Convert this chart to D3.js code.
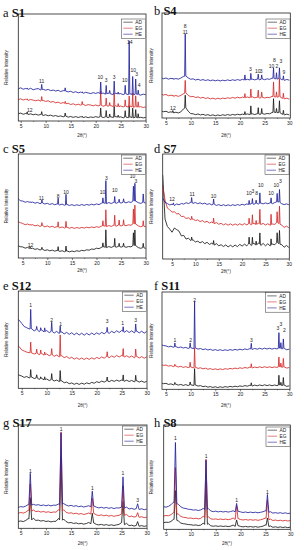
<!DOCTYPE html>
<html><head><meta charset="utf-8">
<script src="https://cdn.jsdelivr.net/npm/d3@7"></script>
<style>html,body{margin:0;padding:0;background:#fff;} svg{display:block;}</style>
</head><body>
<svg id="c" width="304" height="550"></svg>
<script>
// ---------- DATA ----------
const seriesNames = ["AD","EG","HE"];
const xTickValues = [5,10,15,20,25,30];
const xMinorTicks = [7.5,12.5,17.5,22.5,27.5];
const G = [4,4.5,5,5.5,6,6.5,7,7.5,8,8.5,9,9.5,10,10.5,11,11.5,12,12.5,13,13.5,14,14.5,15,15.5,16,16.5,17,17.5,18,18.5,19,19.5,20,20.5,21,21.5,22,22.5,23,23.5,24,24.5,25,25.5,26,26.5,27,27.5,28,28.5,29,29.5,30];
const GD = [3,3.5,4,4.5,5,5.5,6,6.5,7,7.5,8,8.5,9,9.5,10,10.5,11,11.5,12,12.5,13,13.5,14,14.5,15,15.5,16,16.5,17,17.5,18,18.5,19,19.5,20,20.5,21,21.5,22,22.5,23,23.5,24,24.5,25,25.5,26,26.5,27,27.5,28,28.5,29,29.5,30];

// a S1
const aHE = [30.8,30.1,31.0,29.7,30.4,29.5,30.6,29.2,29.9,30.3,29.0,29.6,28.8,29.5,28.4,28.9,28.0,28.7,27.5,28.4,27.9,27.2,27.8,26.6,27.4,26.3,27.0,25.9,26.8,26.2,25.6,26.5,25.8,26.6,25.4,26.1,25.0,26.0,25.3,24.8,25.9,25.1,25.6,24.7,25.5,24.6,25.3,24.4,25.2,24.8,24.2,25.1,24.6];
const aEG = [20.9,20.0,20.7,19.6,20.4,19.3,20.1,19.5,18.9,19.6,18.6,19.2,18.3,18.9,17.6,18.2,17.0,17.6,16.5,17.2,16.1,16.6,15.4,16.1,15.0,15.7,14.8,15.5,14.5,15.3,14.9,14.2,15.0,14.1,14.9,13.8,14.6,13.9,14.4,13.5,14.2,13.3,14.0,13.2,13.9,13.0,13.7,12.8,13.5,12.9,13.4,12.6,13.2];
const aAD = [7.5,6.8,7.4,6.3,7.0,6.1,6.7,5.8,6.4,5.5,6.1,5.2,5.8,4.9,5.5,4.5,5.1,4.2,4.8,3.9,4.6,3.6,4.2,3.4,4.1,3.3,4.0,3.2,3.9,3.1,3.8,3.3,4.1,3.4,4.2,3.2,4.0,3.1,3.9,3.3,4.1,3.4,3.9,3.0,3.8,3.1,3.7,2.9,3.6,2.8,3.5,2.9,3.4];
const aPkX  = [6.3,9.2,13.9,17.3,21.0,22.1,22.8,23.7,24.5,25.9,26.7,27.4,28.0,28.5];
const aPkAD = [2,3,3,1,8,6,3,10,2,6,11,9,7,4];
const aPkEG = [1,4,2,3,13,7,3,12,3,6,10,13,10,5];
const aPkHE = [1,5,3,1,11,8,3,12,2,8,50,17,14,4];
const aLabT = ["12","11","10","3","3","10","11","14","10","3","4"];
const aLabX = [6.8,9.2,20.9,22.1,23.7,25.8,26.7,26.8,27.5,28.2,28.7];
const aLabY = [10,37,41,38,41,38,79,74,47,44,33];

// b S4
const bHE = [38.3,37.4,38.1,37.0,37.8,36.9,37.6,37.0,38.0,39.5,40.0,38.2,36.9,37.3,36.2,36.9,35.9,36.6,35.7,36.4,35.5,36.2,35.4,36.1,35.3,36.0,35.5,36.3,35.6,36.4,35.8,36.6,35.9,36.8,36.0,36.9,36.2,37.0,36.3,37.1,36.4,37.2,36.5,37.3,36.8,38.0,37.5,37.0,37.8,36.6,35.9,36.7,36.0];
const bEG = [22.8,21.9,22.4,21.2,21.8,20.7,21.4,20.6,21.5,23.0,24.0,21.6,20.2,20.6,19.5,20.1,19.0,19.7,18.6,19.3,18.2,18.9,18.0,18.8,18.1,19.0,18.4,19.3,18.7,19.6,18.9,19.8,19.1,19.9,19.2,20.0,19.3,20.1,19.2,19.9,19.0,19.8,19.1,19.7,19.4,20.6,20.2,19.8,20.5,19.0,18.3,18.9,17.9];
const bAD = [6.8,6.0,6.4,5.3,5.9,4.9,5.5,4.8,5.8,8.5,10.0,6.5,4.2,4.0,3.2,3.8,2.9,3.5,2.6,3.2,2.3,3.0,2.2,2.9,2.3,3.1,2.5,3.3,2.6,3.4,2.8,3.6,3.0,3.7,3.1,3.9,3.2,4.0,3.3,4.1,3.4,4.2,3.6,4.3,4.0,5.2,5.5,5.0,5.4,3.8,3.0,3.7,2.9];
const bPkX  = [6.4,8.9,21.0,22.2,23.7,24.4,26.8,27.4,28.0,28.8];
const bPkAD = [2,12,3,8,6,5,13,4,11,4];
const bPkEG = [1,12,4,8,7,5,14,5,17,5];
const bPkHE = [1,40,5,6,5,4,10,6,10,4];
const bLabT = ["12","8","11","3","10","3","10","8","2","3","9"];
const bLabX = [6.4,8.9,8.9,22.1,23.6,24.3,26.4,27.0,27.5,28.3,28.9];
const bLabY = [9.5,87,82,46,45,44.5,49,55,49,54,44];

// c S5
const cHE = [57.5,55.0,54.8,53.6,54.3,53.2,53.8,52.7,53.4,52.3,53.0,51.9,52.6,51.5,52.3,51.2,52.0,51.0,51.8,50.7,51.5,50.5,51.3,50.4,51.2,50.5,51.4,50.6,51.5,50.8,51.7,51.0,52.0,51.3,52.6,53.0,52.2,53.3,52.4,53.5,52.6,53.7,52.8,53.9,53.0,54.0,53.4,55.0,54.6,53.2,52.5,53.6,52.8];
const cEG = [35.0,34.0,33.2,32.0,32.7,31.4,32.1,30.9,31.6,30.4,31.2,30.0,30.8,29.7,30.5,29.4,30.2,29.1,29.9,28.8,29.6,28.6,29.4,28.5,29.3,28.6,29.4,28.8,29.6,29.0,29.9,29.2,30.1,29.5,30.6,31.0,30.2,31.2,30.4,31.5,30.6,31.7,30.8,31.8,31.0,31.9,31.5,33.0,32.6,30.9,30.1,30.8,29.9];
const cAD = [11.8,10.9,10.6,9.5,10.1,8.9,9.4,8.3,8.9,7.7,8.4,7.2,7.9,6.9,7.6,6.6,7.3,6.3,7.0,6.0,6.8,5.9,6.7,6.1,7.0,6.4,7.4,6.9,7.9,7.5,8.6,8.3,9.4,9.0,10.2,10.8,9.9,11.0,10.2,11.2,10.4,11.3,10.5,11.2,10.3,11.0,10.7,12.2,11.8,10.0,9.3,10.1,9.2];
const cPkX  = [6.5,8.9,12.2,13.8,21.3,21.9,23.7,24.6,25.5,27.5,27.8,29.5];
const cPkAD = [2,2,4,5,4,17,8,3,3,12,15,4];
const cPkEG = [1,3,5,6,5,16,10,5,5,14,18,5];
const cPkHE = [1,3,6,10,5,22,6,3,3,14,17,8];
const cLabT = ["12","11","8","10","10","3","10","10","3"];
const cLabX = [6.6,8.8,12.2,13.8,21.2,22.0,23.7,27.3,28.0];
const cLabY = [12,57,59.5,63,63.5,77,65,79,73.5];

// d S7
const dHE = [58,54,52.8,51.5,52.2,51.0,52.4,51.6,52.9,52.3,53.6,52.8,53.9,53.0,53.8,52.7,53.5,52.4,53.2,52.0,52.7,51.5,52.3,51.0,51.8,50.8,51.7,50.7,51.6,50.8,51.7,50.9,51.9,51.1,52.1,51.4,52.4,51.8,52.8,52.1,53.1,52.4,53.3,52.5,53.4,52.6,53.5,52.7,53.8,54.5,54.2,52.6,51.8,52.5,51.7];
const dEG = [70,56,48.5,46.8,44.6,45.0,43.0,43.2,40.4,40.6,38.6,39.2,37.4,38.1,36.6,37.3,35.6,36.6,35.0,35.9,34.3,35.2,33.6,34.7,33.1,34.0,32.5,33.6,32.2,33.5,32.1,33.4,32.2,33.6,32.3,33.7,32.5,33.9,32.6,34.0,32.7,34.1,32.8,33.9,32.4,33.6,32.1,33.3,33.0,35.0,33.4,32.2,30.1,31.3,29.8];
const dAD = [80,38,31,28.5,25.5,29.5,28,26.5,22,22.5,19,19.8,17.6,18.2,16.2,17.0,15.4,16.6,14.6,15.9,13.9,15.1,13.2,14.6,12.6,13.6,11.9,13.4,11.5,13.1,11.6,13.3,11.8,13.9,12.3,14.1,12.6,14.8,12.8,15.0,13.0,15.2,12.9,14.8,12.6,14.5,12.5,14.2,13.6,16.0,14.2,13.6,11.2,12.9,11.0];
const dPkX  = [5.3,9.2,13.9,21.5,22.2,23.0,23.8,26.2,27.5,28.0];
const dPkAD = [0,3,4,6,7,4,11,6,9,13];
const dPkEG = [0,3,5,5,9,4,14,10,10,17];
const dPkHE = [2,5,5,4,5,3,10,5,8,12];
const dLabT = ["12","11","10","10","3","8","10","10","10","3"];
const dLabX = [5.0,9.3,13.9,21.5,22.3,23.1,24.0,26.2,27.3,28.2];
const dLabY = [57,62,60,62.5,65,62.5,70.5,62.5,70,74.5];

// e S12
const eHE = [72.0,70.0,66.8,63.5,62.3,61.0,61.2,59.0,60.6,58.3,59.9,57.8,59.4,57.2,58.9,56.8,58.5,56.3,58.0,55.9,57.5,55.4,57.1,55.0,56.8,54.8,56.6,54.6,56.5,54.8,56.8,55.1,57.0,55.5,57.5,56.0,58.0,56.5,58.6,57.0,59.1,57.4,59.4,57.5,59.3,57.3,59.1,57.1,58.9,56.9,58.7,56.7,58.4];
const eEG = [44.5,42.8,39.5,38.3,37.2,36.6,36.4,35.2,36.3,34.6,35.8,34.0,35.3,33.5,34.8,32.9,34.2,32.3,33.5,31.5,32.7,30.7,31.9,30.0,31.4,29.7,31.2,29.6,31.1,29.7,31.3,30.0,31.7,30.5,32.2,31.0,32.8,31.5,33.3,31.9,33.7,32.2,33.8,32.1,33.5,31.8,33.2,31.5,32.9,31.1,32.6,30.9,32.3];
const eAD = [14.5,13.5,12.6,11.2,12.1,10.7,11.6,10.0,10.9,9.2,10.2,8.6,9.6,8.0,9.1,7.5,8.5,6.9,7.7,5.7,6.4,4.7,5.5,4.1,5.2,4.0,5.3,4.2,5.6,4.6,6.1,5.2,6.8,5.9,7.4,6.4,7.8,6.8,8.2,7.1,8.4,7.3,8.5,7.2,8.3,7.0,8.1,6.7,7.8,6.4,7.5,6.1,7.2];
const ePkX  = [6.8,8.0,8.8,9.6,11.0,12.7,22.1,25.3,27.8];
const ePkAD = [8,3,2,3,6,11,4,6,6];
const ePkEG = [11,4,4,3,6,22,5,8,8];
const ePkHE = [20,3,3,4,9,7,5,5,8];
const eLabT = ["1","2","1","3","1","3"];
const eLabX = [6.8,11.0,12.8,22.1,25.2,27.8];
const eLabY = [85,70,66,68.5,66.8,69.5];

// f S11
const fHE = [45.8,45.0,44.6,43.6,44.3,43.2,43.9,42.8,43.5,42.4,43.1,42.0,42.8,41.9,42.5,41.3,41.9,40.8,41.5,40.4,41.1,40.0,40.8,39.9,40.7,39.8,40.6,39.9,40.8,40.1,41.0,40.3,41.2,40.5,41.5,40.8,41.8,41.0,42.0,41.2,42.2,41.3,42.3,41.4,42.2,41.3,42.1,41.5,42.4,41.6,41.9,40.6,41.3];
const fEG = [25.4,24.6,24.9,23.8,24.4,23.3,24.0,22.9,23.6,22.5,23.3,22.3,23.0,22.1,22.6,21.5,22.1,21.0,21.7,20.6,21.3,20.3,21.0,20.2,21.0,20.3,21.2,20.6,21.5,20.9,21.8,21.2,22.1,21.5,22.4,21.8,22.7,22.0,22.9,22.2,23.1,22.3,23.2,22.4,23.1,22.3,23.0,22.5,23.3,22.6,22.9,21.8,22.4];
const fAD = [6.5,5.8,6.1,5.0,5.6,4.6,5.3,4.3,5.0,4.0,4.8,3.9,4.7,4.0,4.4,3.3,3.8,2.7,3.2,2.2,2.8,1.9,2.6,1.8,2.6,1.9,2.8,2.2,3.0,2.4,3.2,2.6,3.5,2.9,3.8,3.2,4.1,3.4,4.3,3.6,4.5,3.7,4.6,3.8,4.5,3.7,4.4,3.8,4.6,3.9,4.2,3.0,3.6];
const fPkX  = [6.8,9.9,10.8,22.3,27.9,28.3,28.8];
const fPkAD = [2,3,17,3,10,3,8];
const fPkEG = [2,5,20,4,10,4,9];
const fPkHE = [4,5,48,6,16,6,10];
const fLabT = ["1","2","2","3","3","3","2"];
const fLabX = [6.8,10.0,10.8,22.3,27.7,28.3,29.0];
const fLabY = [50.5,50,92,50.5,63,66.5,61];

// g S17
const gHE = [20.5,20.2,21.0,20.6,21.5,23.0,22.0,23.2,22.4,22.9,22.0,22.6,21.8,22.5,21.7,22.4,22.3,23.5,22.3,24.0,22.5,21.6,22.2,21.3,21.9,20.9,21.5,20.6,21.2,21.8,20.6,21.6,20.5,19.7,20.4,19.5,20.2,19.3,20.0,19.1,19.8,19.6,20.5,19.3,20.5,18.7,19.3,18.4,19.1,18.2,18.9,18.0,18.6];
const gEG = [14.3,14.6,15.3,14.7,15.6,17.5,15.8,17.8,16.1,16.6,15.7,16.3,15.5,16.0,15.2,15.8,15.6,18.0,15.3,18.0,15.5,14.6,15.0,14.1,14.6,13.7,14.3,13.4,14.0,14.8,13.6,14.5,13.0,12.4,13.0,12.1,12.7,11.8,12.4,11.6,12.2,12.5,14.0,12.3,13.5,11.2,11.8,10.9,11.5,10.6,11.2,10.3,10.8];
const gAD = [6.3,6.6,7.1,6.5,7.6,9.5,7.2,9.8,7.6,7.9,7.0,7.5,6.6,7.0,6.2,6.7,6.8,9.5,6.4,9.0,6.5,5.3,5.6,4.7,5.2,4.3,4.8,4.0,4.6,5.6,4.2,5.2,3.8,3.3,3.8,3.0,3.6,2.8,3.4,2.7,3.3,3.8,5.5,3.2,4.8,2.6,3.0,2.2,2.8,2.0,2.6,1.9,2.4];
const gPkX  = [6.9,13.0,19.2,25.3,28.2];
const gPkAD = [22,62,10,22,4];
const gPkEG = [27,78,15,28,4];
const gPkHE = [31,70,15,30,5];
const gLabT = ["1","1","1","1","3"];
const gLabX = [6.9,13.0,19.2,25.3,28.2];
const gLabY = [55.5,96,38.7,53,27.4];

// h S8
const hHE = [21.4,21.7,21.2,22.0,23.5,26.0,25.0,24.0,21.5,20.3,19.9,19.2,19.0,18.4,18.7,18.0,18.6,20.0,18.0,20.0,17.6,16.9,17.4,16.7,17.2,16.6,17.1,16.5,17.0,17.8,16.5,17.3,16.7,16.1,16.6,16.0,16.5,15.9,16.4,15.8,16.3,16.8,17.8,16.0,16.9,15.5,16.0,15.4,15.9,15.2,15.8,15.1,15.5];
const hEG = [12.5,12.8,13.2,13.0,14.0,16.0,15.0,14.5,12.3,11.5,11.2,10.6,10.8,10.2,10.6,10.0,10.5,12.5,10.0,12.0,10.1,9.6,10.0,9.4,9.9,9.3,9.8,9.2,9.7,10.8,9.2,10.3,9.4,8.9,9.4,8.8,9.3,8.7,9.2,8.6,9.1,9.8,10.8,9.0,9.8,8.4,8.9,8.2,8.7,8.0,8.6,7.9,8.4];
const hAD = [6.1,6.4,6.8,6.6,7.5,9.5,9.0,8.0,5.9,5.4,5.0,4.5,4.4,3.9,4.2,3.6,4.0,6.0,3.5,5.5,3.4,2.9,3.3,2.8,3.2,2.7,3.1,2.6,3.0,4.0,2.6,3.5,2.8,2.3,2.8,2.2,2.7,2.1,2.6,2.0,2.5,3.0,4.2,2.4,3.2,1.9,2.4,1.8,2.3,1.7,2.2,1.6,2.1];
const hPkX  = [6.9,13.05,19.2,25.4];
const hPkAD = [28,42,6,8];
const hPkEG = [44,57,13,19];
const hPkHE = [58,48,8,17];
const hLabT = ["1","1","1","1"];
const hLabX = [6.9,13.05,19.2,25.4];
const hLabY = [87,70,28,36];

// ---------- PANELS ----------
const panels = [
 {letter:"a", name:"S1",  grid:G,  s:{AD:aAD,EG:aEG,HE:aHE}, pk:{x:aPkX,AD:aPkAD,EG:aPkEG,HE:aPkHE}, lab:{t:aLabT,x:aLabX,y:aLabY}},
 {letter:"b", name:"S4",  grid:G,  s:{AD:bAD,EG:bEG,HE:bHE}, pk:{x:bPkX,AD:bPkAD,EG:bPkEG,HE:bPkHE}, lab:{t:bLabT,x:bLabX,y:bLabY}},
 {letter:"c", name:"S5",  grid:G,  s:{AD:cAD,EG:cEG,HE:cHE}, pk:{x:cPkX,AD:cPkAD,EG:cPkEG,HE:cPkHE}, lab:{t:cLabT,x:cLabX,y:cLabY}},
 {letter:"d", name:"S7",  grid:GD, s:{AD:dAD,EG:dEG,HE:dHE}, pk:{x:dPkX,AD:dPkAD,EG:dPkEG,HE:dPkHE}, lab:{t:dLabT,x:dLabX,y:dLabY}},
 {letter:"e", name:"S12", grid:G,  s:{AD:eAD,EG:eEG,HE:eHE}, pk:{x:ePkX,AD:ePkAD,EG:ePkEG,HE:ePkHE}, lab:{t:eLabT,x:eLabX,y:eLabY}},
 {letter:"f", name:"S11", grid:G,  s:{AD:fAD,EG:fEG,HE:fHE}, pk:{x:fPkX,AD:fPkAD,EG:fPkEG,HE:fPkHE}, lab:{t:fLabT,x:fLabX,y:fLabY}},
 {letter:"g", name:"S17", grid:G,  s:{AD:gAD,EG:gEG,HE:gHE}, pk:{x:gPkX,AD:gPkAD,EG:gPkEG,HE:gPkHE}, lab:{t:gLabT,x:gLabX,y:gLabY}},
 {letter:"h", name:"S8",  grid:G,  s:{AD:hAD,EG:hEG,HE:hHE}, pk:{x:hPkX,AD:hPkAD,EG:hPkEG,HE:hPkHE}, lab:{t:hLabT,x:hLabX,y:hLabY}}
];

// layout: box [x0,y0,x1,y1], x-domain, peak half-width, title pos, y-label x, x-label baseline, legend top offset
const layout = {
 a:{box:[18.3,14,146,121],    dom:[4.52,30.06], w:0.12, title:[3,17],    ylab:6,   xlab:136.5, lgTop:5},
 b:{box:[162,13,290.3,118],   dom:[4.19,30.2],  w:0.12, title:[154,15],  ylab:151, xlab:136.5, lgTop:6},
 c:{box:[18.3,154,146,258],   dom:[4.1,30.06],  w:0.12, title:[3,153],   ylab:6,   xlab:272,   lgTop:1},
 d:{box:[162.7,154,289.3,259],dom:[3.0,30.1],   w:0.12, title:[154,153], ylab:151, xlab:272.5, lgTop:1},
 e:{box:[18.3,291,147,388.3], dom:[4.32,30.06], w:0.12, title:[3,290],   ylab:6,   xlab:406.5, lgTop:1},
 f:{box:[162,292,290,389.3],  dom:[4.19,30.15], w:0.12, title:[154,290], ylab:151, xlab:406.5, lgTop:0.7},
 g:{box:[18.3,425,147,528.3], dom:[4.52,30.06], w:0.28, title:[3,427],   ylab:6,   xlab:544.5, lgTop:1},
 h:{box:[163.7,425,290.3,529.3],dom:[4.54,30.0],w:0.28, title:[154,427], ylab:151, xlab:544.5, lgTop:2}
};

const colors = {AD:"#1a1a1a", EG:"#d42a2a", HE:"#22229c"};
const svg = d3.select("#c");
const defs = svg.append("defs");
const sans = "'Liberation Sans', Arial, sans-serif";

panels.forEach(p => {
  const L = layout[p.letter];
  const [x0,y0,x1,y1] = L.box;
  const x = d3.scaleLinear().domain(L.dom).range([x0,x1]);
  const y = d3.scaleLinear().domain([0,100]).range([y1,y0]);
  const g = svg.append("g");
  const cid = "clip-" + p.letter;
  defs.append("clipPath").attr("id", cid).append("rect")
    .attr("x", x0).attr("y", y0).attr("width", x1-x0).attr("height", y1-y0);
  const plot = g.append("g").attr("clip-path", `url(#${cid})`);

  seriesNames.forEach(cat => {
    const vals = p.s[cat];
    const base = d3.scaleLinear().domain(p.grid).range(vals);
    const hs = p.pk[cat];
    const pts = [];
    p.grid.forEach((gx,i) => {
      const nearPeak = p.pk.x.some((px,j) => hs[j] > 0 && Math.abs(px-gx) < L.w);
      if (!nearPeak) pts.push([gx, vals[i]]);
    });
    p.pk.x.forEach((px,j) => {
      if (hs[j] <= 0) return;
      pts.push([px-L.w, base(px-L.w)], [px, base(px)+hs[j]], [px+L.w, base(px+L.w)]);
    });
    pts.sort((a,b) => a[0]-b[0]);
    plot.append("path")
      .attr("d", d3.line().x(d => x(d[0])).y(d => y(d[1]))(pts))
      .attr("fill","none").attr("stroke", colors[cat])
      .attr("stroke-width", 0.85).attr("stroke-linejoin","round");
  });

  // peak labels
  g.append("g").selectAll("text").data(p.lab.t).join("text")
    .attr("x", (d,i) => x(p.lab.x[i])).attr("y", (d,i) => y(p.lab.y[i]))
    .attr("dy","0.35em").attr("text-anchor","middle")
    .attr("font-family", sans).attr("font-size", 5).attr("fill","#222")
    .text(d => d);

  // frame
  g.append("rect").attr("x",x0).attr("y",y0).attr("width",x1-x0).attr("height",y1-y0)
    .attr("fill","none").attr("stroke","#222").attr("stroke-width",0.8);

  // x axis
  const ax = g.append("g").attr("transform",`translate(0,${y1})`)
    .call(d3.axisBottom(x).tickValues(xTickValues).tickSize(2).tickSizeOuter(0).tickPadding(1));
  ax.select(".domain").remove();
  ax.selectAll("line").attr("stroke","#222").attr("stroke-width",0.6);
  ax.selectAll("text").attr("font-family",sans).attr("font-size",5).attr("fill","#222");
  const axm = g.append("g").attr("transform",`translate(0,${y1})`)
    .call(d3.axisBottom(x).tickValues(xMinorTicks.filter(v => v > L.dom[0])).tickSize(1).tickFormat(""));
  axm.select(".domain").remove();
  axm.selectAll("line").attr("stroke","#222").attr("stroke-width",0.5);

  // axis titles
  g.append("text").attr("x",(x0+x1)/2).attr("y",L.xlab).attr("text-anchor","middle")
    .attr("font-family",sans).attr("font-size",4.5).attr("fill","#222").text("2θ(°)");
  g.append("text").attr("transform",`translate(${L.ylab},${(y0+y1)/2}) rotate(-90)`)
    .attr("dy","0.35em").attr("text-anchor","middle")
    .attr("font-family",sans).attr("font-size",4.5).attr("fill","#222").text("Relative Intensity");

  // legend
  const lg = g.append("g").attr("transform",`translate(${x1-24.3},${y0+L.lgTop})`);
  lg.append("rect").attr("width",24).attr("height",19.5).attr("fill","#fff")
    .attr("stroke","#333").attr("stroke-width",0.5);
  seriesNames.forEach((cat,i) => {
    lg.append("line").attr("x1",1.6).attr("x2",11).attr("y1",3.2+6*i).attr("y2",3.2+6*i)
      .attr("stroke",colors[cat]).attr("stroke-width",0.6);
    lg.append("text").attr("x",13.5).attr("y",3.2+6*i).attr("dy","0.35em")
      .attr("font-family",sans).attr("font-size",4.8).attr("fill","#222").text(cat);
  });

  // title
  const t = svg.append("text").attr("x",L.title[0]).attr("y",L.title[1])
    .attr("font-family","'Liberation Serif','Times New Roman',serif").attr("font-size",12.5).attr("fill","#111");
  t.append("tspan").text(p.letter + " ");
  t.append("tspan").attr("font-weight","bold").text(p.name);
});
</script>
</body></html>
